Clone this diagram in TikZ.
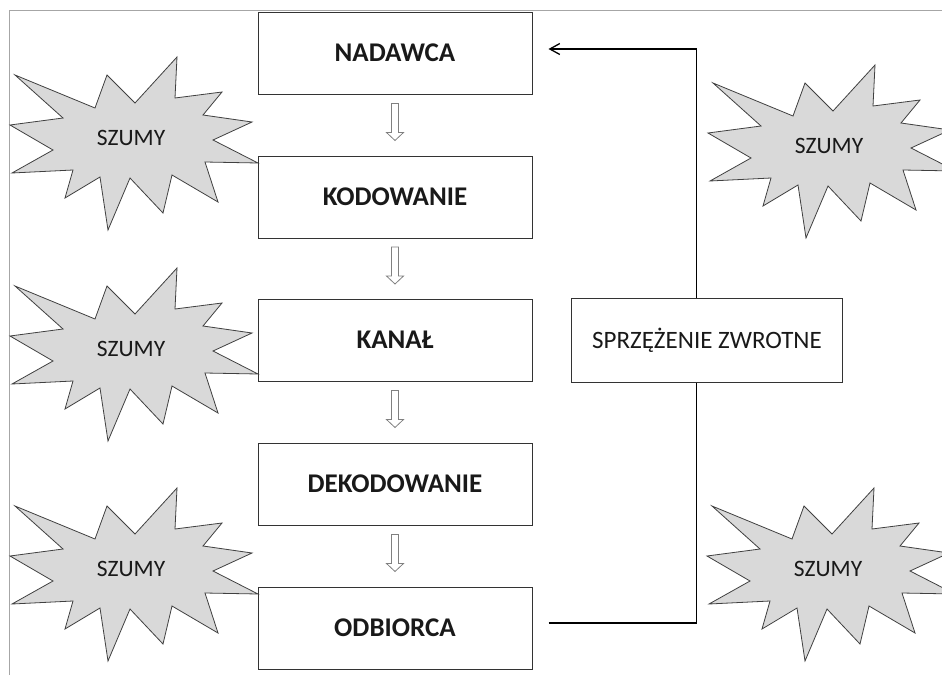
\documentclass[tikz,border=0pt]{standalone}
\usepackage{fontspec}
\setmainfont{Carlito}
\usetikzlibrary{calc,arrows.meta}
\definecolor{noisegray}{HTML}{D9D9D9}
\definecolor{framegray}{HTML}{A6A6A6}
\begin{document}
\begin{tikzpicture}[x=1pt,y=-1pt,
    box/.style={draw=black!80,line width=1pt,minimum width=274,minimum height=82,
      text=black!90,font=\bfseries\fontsize{27}{32}\selectfont},
    noise/.style={draw=black!75,fill=noisegray,line width=0.8pt,line join=miter},
    noisetext/.style={text=black!90,font=\fontsize{23.5}{28}\selectfont},
    hollow/.style={draw=black!50,fill=white,line width=0.8pt},
    feedback/.style={black,line width=1.3pt}]
        \clip (0,0) rectangle (942,675);
        \draw[framegray,line width=1pt] (9,675) -- (9,10) -- (942,10); %frame

        \node[box] (nad) at (395,53) {NADAWCA}; %nadawca
        \node[box] (kod) at (395,197) {KODOWANIE}; %kodowanie
        \node[box] (kan) at (395,340) {KANAŁ}; %kanal
        \node[box] (dek) at (395,484) {DEKODOWANIE}; %dekodowanie
        \node[box] (odb) at (395,628) {ODBIORCA}; %odbiorca
        \node[box,minimum width=271,minimum height=84,font=\fontsize{25}{30}\selectfont] (sprz) at (707,340) {SPRZĘŻENIE ZWROTNE}; %sprzezenie

        % hollow arrows between the boxes
        \foreach \a/\b in {nad/kod,kod/kan,kan/dek,dek/odb}
            \draw[hollow,shift={($(\a.south)!0.5!(\b.north)$)}]
                (-3.5,-21.5) -- (3.5,-21.5) -- (3.5,7.5) -- (8.5,7.5) -- (0,15.5)
                -- (-8.5,7.5) -- (-3.5,7.5) -- cycle;

        % noise
        \foreach \sx/\sy/\nm in {135/140/s1,135/351/s2,135/571/s3,833/148/s4,832/571/s5}{
            \draw[noise,shift={(\sx,\sy)}] (42,-83) -- (0,-37) -- (-28,-65) -- (-40,-32)
                -- (-120,-65) -- (-72,-22) -- (-125,-15) -- (-82,10) -- (-123,33)
                -- (-62,30) -- (-70,58) -- (-35,37) -- (-27,90) -- (-5,38) -- (28,73)
                -- (37,35) -- (83,62) -- (70,22) -- (123,23) -- (78,0) -- (117,-18)
                -- (68,-25) -- (87,-48) -- (40,-42) -- cycle;
            \node[noisetext] (\nm) at (\sx-4,\sy-2) {SZUMY};
        }

        % feedback loop
        \coordinate (fbstart) at ($(odb.east)+(16,-5)$);
        \coordinate (fbend) at ($(nad.east)+(16,-4)$);
        \coordinate (fbx) at ($(fbstart)+(148,0)$);
        \draw[feedback] (fbstart) -| (fbx |- sprz.south);
        \draw[feedback,-{Straight Barb[length=10pt,width=11pt,line width=1.3pt]}] (fbx |- sprz.north) |- (fbend);
    \end{tikzpicture}
\end{document}
